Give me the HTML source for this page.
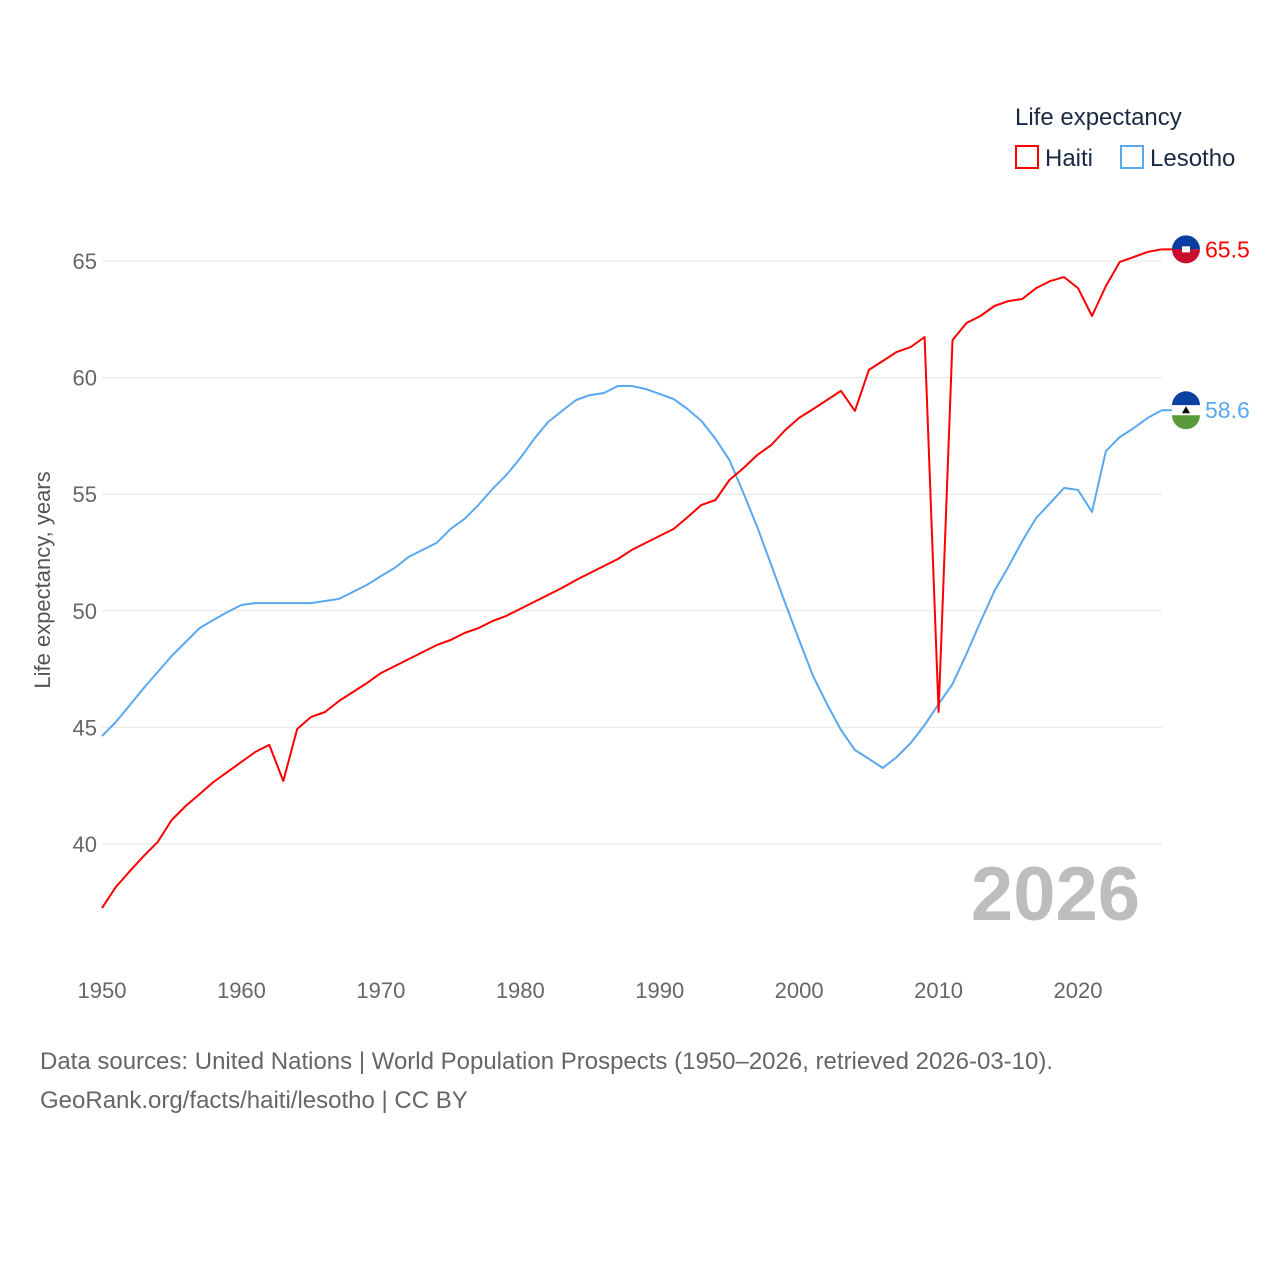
<!DOCTYPE html>
<html><head><meta charset="utf-8">
<style>
body{margin:0;background:#fff;font-family:"Liberation Sans",sans-serif;}
svg text{font-family:"Liberation Sans",sans-serif;}
</style></head>
<body>
<svg id="chart" width="1280" height="1280" viewBox="0 0 1280 1280" xmlns="http://www.w3.org/2000/svg">
<g id="grid"></g>
<g id="yticks"></g>
<g id="xticks"></g>
<text x="1140" y="920" text-anchor="end" font-size="76" font-weight="bold" fill="#bdbdbd">2026</text>
<text transform="translate(50,580) rotate(-90)" text-anchor="middle" font-size="22" fill="#555">Life expectancy, years</text>
<g id="series"></g>
<g>
<text x="1015" y="125" font-size="24" fill="#1a2a44">Life expectancy</text>
<g><rect x="1016" y="146" width="22" height="22" fill="none" stroke="#ff0000" stroke-width="2"/><text x="1045" y="166" font-size="24" fill="#1a2a44">Haiti</text></g>
<g><rect x="1121" y="146" width="22" height="22" fill="none" stroke="#5aa8f0" stroke-width="2"/><text x="1150" y="166" font-size="24" fill="#1a2a44">Lesotho</text></g>
</g>
<text x="40" y="1069" font-size="24" fill="#666">Data sources: United Nations | World Population Prospects (1950–2026, retrieved 2026-03-10).</text>
<text x="40" y="1108" font-size="24" fill="#666">GeoRank.org/facts/haiti/lesotho | CC BY</text>
</svg>
<script>
const years=[];for(let y=1950;y<=2026;y++)years.push(y);
const haiti=[37.25,38.16,38.84,39.49,40.09,41.03,41.63,42.14,42.66,43.09,43.52,43.95,44.25,42.70,44.93,45.45,45.66,46.13,46.52,46.90,47.33,47.63,47.93,48.23,48.53,48.75,49.05,49.26,49.56,49.78,50.08,50.38,50.68,50.98,51.32,51.62,51.92,52.22,52.61,52.91,53.21,53.51,54.02,54.54,54.75,55.61,56.12,56.68,57.11,57.75,58.27,58.65,59.04,59.43,58.57,60.33,60.71,61.10,61.31,61.74,45.66,61.61,62.34,62.64,63.07,63.28,63.37,63.84,64.14,64.31,63.84,62.64,63.93,64.96,65.17,65.39,65.5];
const lesotho=[44.63,45.23,45.96,46.69,47.38,48.06,48.66,49.26,49.61,49.95,50.25,50.33,50.33,50.33,50.33,50.33,50.42,50.51,50.81,51.11,51.49,51.84,52.31,52.61,52.91,53.51,53.94,54.54,55.22,55.82,56.55,57.37,58.10,58.57,59.04,59.25,59.34,59.64,59.64,59.51,59.30,59.08,58.65,58.14,57.37,56.47,55.05,53.59,51.96,50.33,48.75,47.20,46.00,44.89,44.03,43.65,43.26,43.73,44.33,45.10,46.00,46.86,48.15,49.52,50.85,51.88,52.99,53.98,54.62,55.27,55.18,54.24,56.85,57.45,57.84,58.27,58.6];
const yTicks=[40,45,50,55,60,65];
const xTicks=[1950,1960,1970,1980,1990,2000,2010,2020];
const X=y=>102+(y-1950)*13.943;
const Y=v=>261+(65-v)*23.32;
const NS="http://www.w3.org/2000/svg";
function mk(tag,attrs,parent,txt){const e=document.createElementNS(NS,tag);for(const k in attrs)e.setAttribute(k,attrs[k]);if(txt!==undefined)e.textContent=txt;parent.appendChild(e);return e;}
const grid=document.getElementById('grid'),yt=document.getElementById('yticks'),xt=document.getElementById('xticks'),ser=document.getElementById('series');
yTicks.forEach(v=>{
 const l=mk('line',{x1:102,x2:1162,y1:Y(v),y2:Y(v),stroke:'#e6e6e6','stroke-width':1},grid);
 
 
 const t=mk('text',{x:97,y:Y(v)+8,'text-anchor':'end','font-size':22,fill:'#666'},yt,String(v));
 
 
});
xTicks.forEach(v=>{
 const t=mk('text',{x:X(v),y:998,'text-anchor':'middle','font-size':22,fill:'#666'},xt,String(v));
 
 
});
function line(vals,color,name){
 const d=vals.map((v,i)=>(i?'L':'M')+X(years[i]).toFixed(1)+' '+Y(v).toFixed(1)).join(' ');
 const p=mk('path',{d:d,fill:'none',stroke:color,'stroke-width':2,'stroke-linejoin':'round'},ser);
 
 
 const last=vals[vals.length-1];
 const cx=1186,cy=Y(last);
 const g=mk('g',{},ser);
 
 
 mk('line',{x1:X(2026),x2:cx,y1:cy,y2:cy,stroke:color,'stroke-width':2},g);
 if(name==='haiti'){
  mk('path',{d:`M${cx-14} ${cy} A14 14 0 0 1 ${cx+14} ${cy} Z`,fill:'#0a3da0'},g);
  mk('path',{d:`M${cx-14} ${cy} A14 14 0 0 0 ${cx+14} ${cy} Z`,fill:'#c8102e'},g);
  mk('rect',{x:cx-4,y:cy-3,width:8,height:6,fill:'#fff'},g);
 } else {
  mk('path',{d:`M${cx-14} ${cy-5} A14 14 0 0 1 ${cx+14} ${cy-5} Z`,fill:'#0b3fa0'},g);
  mk('rect',{x:cx-14,y:cy-5,width:28,height:10,fill:'#fff'},g);
  mk('path',{d:`M${cx-14} ${cy+5} A14 14 0 0 0 ${cx+14} ${cy+5} Z`,fill:'#5a9a3a'},g);
  mk('path',{d:`M${cx-4} ${cy+3} L${cx} ${cy-4} L${cx+4} ${cy+3} Z`,fill:'#000'},g);
 }
 const t=mk('text',{x:1205,y:cy+8,'font-size':23,fill:color},ser,last.toFixed(1));
 
 
}
line(lesotho,'#5aa8f0','lesotho');
line(haiti,'#ff0000','haiti');
</script>
</body></html>
